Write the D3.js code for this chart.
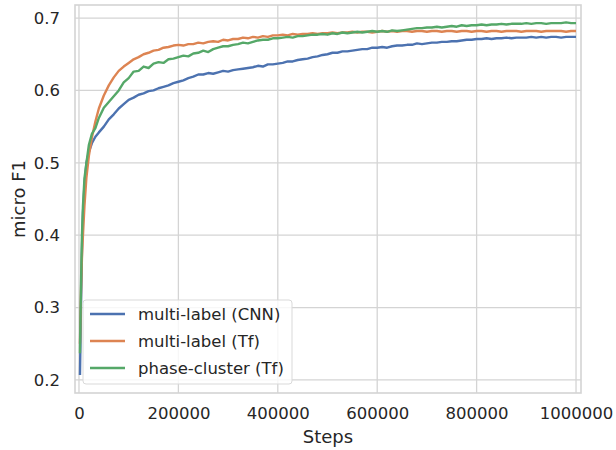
<!DOCTYPE html>
<html>
<head>
<meta charset="utf-8">
<script src="https://cdnjs.cloudflare.com/ajax/libs/d3/7.8.5/d3.min.js"></script>
<style>
    body { margin: 0; background: #fff; }
    text { font-family: "DejaVu Sans", sans-serif; fill: #262626; }
</style>
</head>
<body>
<div id="app"></div>
<script>
// steps are stored in thousands
const stepsK = [2, 4, 6, 8, 11, 15, 20, 26, 33, 40, 50, 60, 70, 80, 90, 100, 110, 120, 130, 140, 150, 160, 170, 180, 190,
    200, 210, 220, 230, 240, 250, 260, 270, 280, 290, 300, 310, 320, 330, 340, 350, 360, 370, 380, 390,
    400, 410, 420, 430, 440, 450, 460, 470, 480, 490, 500, 510, 520, 530, 540, 550, 560, 570, 580, 590,
    600, 610, 620, 630, 640, 650, 660, 670, 680, 690, 700, 710, 720, 730, 740, 750, 760, 770, 780, 790,
    800, 810, 820, 830, 840, 850, 860, 870, 880, 890, 900, 910, 920, 930, 940, 950, 960, 970, 980, 990, 1000];

const cnnValues = [0.207, 0.300, 0.380, 0.430, 0.470, 0.500, 0.515, 0.527, 0.536, 0.542, 0.550, 0.560, 0.567, 0.575, 0.581, 0.587, 0.590, 0.594, 0.596, 0.599, 0.600, 0.603, 0.605, 0.607, 0.610,
    0.612, 0.614, 0.617, 0.619, 0.622, 0.622, 0.624, 0.623, 0.625, 0.627, 0.626, 0.628, 0.629, 0.630, 0.631, 0.632, 0.634, 0.633, 0.636, 0.636,
    0.637, 0.638, 0.640, 0.640, 0.642, 0.643, 0.644, 0.646, 0.647, 0.649, 0.650, 0.652, 0.652, 0.654, 0.654, 0.655, 0.656, 0.657, 0.657, 0.659,
    0.659, 0.660, 0.659, 0.661, 0.662, 0.662, 0.663, 0.663, 0.665, 0.664, 0.665, 0.666, 0.666, 0.667, 0.667, 0.668, 0.668, 0.669, 0.670, 0.670,
    0.671, 0.671, 0.672, 0.671, 0.672, 0.672, 0.673, 0.672, 0.673, 0.673, 0.673, 0.674, 0.673, 0.674, 0.673, 0.674, 0.674, 0.673, 0.674, 0.674, 0.674];

const tfValues = [0.250, 0.320, 0.370, 0.400, 0.440, 0.480, 0.510, 0.535, 0.557, 0.575, 0.593, 0.607, 0.618, 0.627, 0.633, 0.638, 0.643, 0.646, 0.650, 0.652, 0.655, 0.656, 0.659, 0.660, 0.662,
    0.663, 0.662, 0.664, 0.664, 0.666, 0.665, 0.667, 0.668, 0.667, 0.670, 0.669, 0.671, 0.671, 0.673, 0.672, 0.674, 0.673, 0.675, 0.674, 0.676,
    0.676, 0.677, 0.676, 0.678, 0.677, 0.678, 0.678, 0.679, 0.678, 0.679, 0.679, 0.680, 0.679, 0.680, 0.680, 0.681, 0.680, 0.681, 0.681, 0.680,
    0.681, 0.682, 0.681, 0.682, 0.681, 0.682, 0.682, 0.681, 0.682, 0.682, 0.681, 0.682, 0.682, 0.681, 0.682, 0.682, 0.681, 0.682, 0.682, 0.681,
    0.682, 0.682, 0.681, 0.682, 0.682, 0.681, 0.682, 0.682, 0.682, 0.681, 0.682, 0.682, 0.682, 0.681, 0.682, 0.682, 0.682, 0.682, 0.681, 0.682, 0.682];

const clusterValues = [0.237, 0.330, 0.400, 0.440, 0.478, 0.500, 0.525, 0.540, 0.548, 0.562, 0.576, 0.584, 0.592, 0.600, 0.611, 0.617, 0.626, 0.627, 0.633, 0.631, 0.637, 0.639, 0.638, 0.643, 0.644,
    0.646, 0.648, 0.647, 0.651, 0.652, 0.655, 0.653, 0.657, 0.659, 0.661, 0.661, 0.663, 0.664, 0.666, 0.665, 0.667, 0.669, 0.670, 0.670, 0.672,
    0.672, 0.673, 0.674, 0.673, 0.675, 0.675, 0.676, 0.677, 0.677, 0.678, 0.677, 0.679, 0.678, 0.680, 0.679, 0.680, 0.681, 0.680, 0.681, 0.682,
    0.681, 0.682, 0.681, 0.683, 0.682, 0.683, 0.684, 0.685, 0.686, 0.686, 0.687, 0.687, 0.688, 0.687, 0.688, 0.689, 0.688, 0.690, 0.689, 0.690,
    0.690, 0.691, 0.690, 0.691, 0.691, 0.692, 0.691, 0.692, 0.692, 0.692, 0.693, 0.692, 0.693, 0.693, 0.692, 0.693, 0.693, 0.693, 0.694, 0.693, 0.693];

const seriesNames = ["multi-label (CNN)", "multi-label (Tf)", "phase-cluster (Tf)"];
const seriesColors = ["#4c72b0", "#dd8452", "#55a868"];
const xTicks = [0, 200000, 400000, 600000, 800000, 1000000];
const yTicks = [0.2, 0.3, 0.4, 0.5, 0.6, 0.7];

let width = 616,
    height = 450;

const margin = {left: 75, right: 35, top: 5, bottom: 57};
const gridColor = "#d4d4d4";

const x = d3.scaleLinear()
    .domain([-8000, 1010000])
    .range([margin.left, width - margin.right]);

const y = d3.scaleLinear()
    .domain([0.182, 0.718])
    .range([height - margin.bottom, margin.top]);

const svg = d3.select("#app").append("svg")
    .attr("width", width)
    .attr("height", height);

// grid
const grid = svg.append("g");
grid.selectAll(".vgrid").data(xTicks).enter().append("line")
    .attr("x1", d => x(d)).attr("x2", d => x(d))
    .attr("y1", margin.top).attr("y2", height - margin.bottom)
    .attr("stroke", gridColor).attr("stroke-width", 1.3);
grid.selectAll(".hgrid").data(yTicks).enter().append("line")
    .attr("x1", margin.left).attr("x2", width - margin.right)
    .attr("y1", d => y(d)).attr("y2", d => y(d))
    .attr("stroke", gridColor).attr("stroke-width", 1.3);

// axes (labels only, seaborn style)
const xAxis = svg.append("g")
    .attr("transform", `translate(0,${height - margin.bottom})`)
    .call(d3.axisBottom(x).tickValues(xTicks).tickFormat(d3.format("d")).tickSize(0).tickPadding(14));
const yAxis = svg.append("g")
    .attr("transform", `translate(${margin.left},0)`)
    .call(d3.axisLeft(y).tickValues(yTicks).tickFormat(d3.format(".1f")).tickSize(0).tickPadding(15));
[xAxis, yAxis].forEach(ax => {
    ax.select(".domain").remove();
    ax.selectAll("text")
        .attr("font-family", "DejaVu Sans")
        .attr("font-size", "16.5px")
        .attr("fill", "#262626");
});

// lines
const line = d3.line()
    .x(d => x(d[0] * 1000))
    .y(d => y(d[1]));

const allValues = [cnnValues, tfValues, clusterValues];
allValues.forEach((vals, i) => {
    svg.append("path")
        .datum(d3.zip(stepsK, vals))
        .attr("fill", "none")
        .attr("stroke", seriesColors[i])
        .attr("stroke-width", 2.4)
        .attr("stroke-linejoin", "round")
        .attr("d", line);
});

// frame
svg.append("rect")
    .attr("x", margin.left).attr("y", margin.top)
    .attr("width", width - margin.left - margin.right)
    .attr("height", height - margin.top - margin.bottom)
    .attr("fill", "none")
    .attr("stroke", gridColor)
    .attr("stroke-width", 1.6);

// axis titles
svg.append("text")
    .attr("x", (margin.left + width - margin.right) / 2)
    .attr("y", 443)
    .attr("text-anchor", "middle")
    .attr("font-size", "18px")
    .text("Steps");

svg.append("text")
    .attr("transform", `translate(25,${(margin.top + height - margin.bottom) / 2}) rotate(-90)`)
    .attr("text-anchor", "middle")
    .attr("font-size", "18px")
    .text("micro F1");

// legend
const legend = svg.append("g").attr("transform", "translate(83,300)");
legend.append("rect")
    .attr("width", 209).attr("height", 84)
    .attr("rx", 3)
    .attr("fill", "#fff").attr("fill-opacity", 0.8)
    .attr("stroke", "#d9d9d9").attr("stroke-width", 1);

const rows = legend.selectAll(".row").data(seriesNames).enter().append("g")
    .attr("transform", (d, i) => `translate(0,${14 + i * 27})`);
rows.append("line")
    .attr("x1", 7).attr("x2", 42)
    .attr("stroke", (d, i) => seriesColors[i])
    .attr("stroke-width", 2.6);
rows.append("text")
    .attr("x", 55)
    .attr("dy", "0.35em")
    .attr("font-size", "16.5px")
    .text(d => d);
</script>
</body>
</html>
